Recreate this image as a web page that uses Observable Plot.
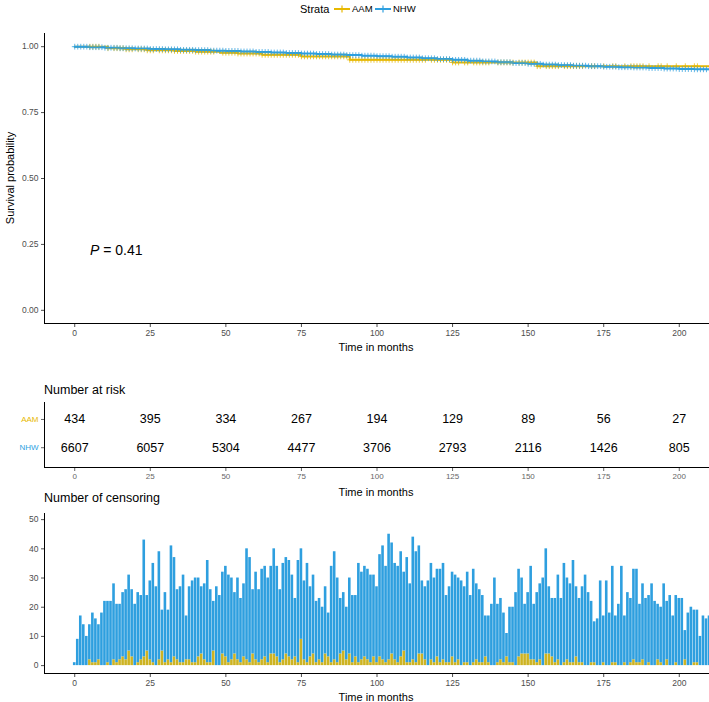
<!DOCTYPE html>
<html><head><meta charset="utf-8">
<script src="https://cdn.jsdelivr.net/npm/d3@7"></script>
<script src="https://cdn.jsdelivr.net/npm/@observablehq/plot@0.6"></script>
<style>
body{margin:0;background:#fff;}
#root{position:relative;width:709px;height:702px;font-family:"Liberation Sans",Arial,sans-serif;overflow:hidden;background:#fff;}
.abs{position:absolute;white-space:nowrap;line-height:1;color:#000;}
#root svg{overflow:visible;position:absolute;left:0;}
</style></head><body><div id="root"></div>
<script>
// ---------- data ----------
const strata = ["AAM", "NHW"];
const lineColors = ["#E7B800", "#2E9FDF"];
const barColors = ["#CDB322", "#2E9FDF"];
const timeTicks = [0, 25, 50, 75, 100, 125, 150, 175, 200];
const survTicks = [0, 0.25, 0.5, 0.75, 1];
const censorTicks = [0, 10, 20, 30, 40, 50];
const pValue = "0.41";

const nhwTimes = [0,5,10,15,20,25,30,35,40,45,50,55,60,65,70,75,80,85,90,95,100,105,110,115,120,125,130,135,140,145,150,155,160,165,170,175,180,185,190,195,200,205,210];
const nhwSurv = [1.000,0.998,0.996,0.994,0.993,0.991,0.990,0.988,0.987,0.985,0.984,0.982,0.980,0.978,0.976,0.974,0.972,0.970,0.968,0.966,0.964,0.962,0.959,0.956,0.953,0.950,0.947,0.944,0.941,0.938,0.935,0.932,0.930,0.928,0.926,0.924,0.922,0.921,0.919,0.917,0.915,0.914,0.913];
const aamTimes = [0,11,17,24,33,40,48,54,62,75,91,125,153,210];
const aamSurv = [1.000,0.994,0.990,0.986,0.984,0.981,0.977,0.974,0.969,0.963,0.950,0.940,0.926,0.926];

const riskTimes = [0, 25, 50, 75, 100, 125, 150, 175, 200];
const riskAAM = [434, 395, 334, 267, 194, 129, 89, 56, 27];
const riskNHW = [6607, 6057, 5304, 4477, 3706, 2793, 2116, 1426, 805];

// number censored per month, months 0..210
const censorAAM = [
0,0,0,0,0,2,1,1,2,0,
0,1,0,2,1,2,3,2,5,3,
0,1,2,3,5,2,1,0,2,5,
1,2,1,3,2,1,1,2,2,1,
1,3,4,2,1,1,5,0,0,4,
3,1,2,4,2,1,3,2,1,4,
2,1,2,3,1,4,4,3,1,2,
4,3,2,3,1,9,2,1,3,4,
1,2,1,4,3,1,2,1,4,5,
2,4,1,3,1,2,3,2,1,3,
1,3,2,1,2,4,2,1,3,5,
1,1,2,1,4,4,2,0,2,1,
3,1,2,1,1,3,1,2,0,1,
1,0,1,2,1,1,3,1,0,0,
1,2,1,3,1,1,0,3,4,4,
4,2,2,1,2,0,4,4,3,1,
2,0,1,2,1,1,3,1,1,0,
0,1,1,0,0,1,0,0,1,1,
0,0,1,0,1,2,1,1,2,0,
1,0,0,2,1,0,2,0,0,1,
0,0,2,0,0,1,1,0,0,0,
0];
const censorNHW = [
1,9,17,14,10,12,17,15,12,18,
22,21,22,26,20,19,22,24,26,23,
21,24,22,40,19,27,34,27,37,14,
24,17,40,34,24,26,30,15,25,28,
29,27,23,26,35,25,17,27,24,28,
31,30,28,21,28,22,25,38,36,22,
30,25,31,31,29,30,36,31,25,33,
33,33,29,20,35,31,27,34,24,27,
21,21,19,23,15,33,37,29,19,20,
18,26,23,21,34,30,31,31,30,28,
26,35,39,33,43,38,33,33,36,27,
36,27,42,38,37,25,25,29,33,29,
30,32,33,23,26,29,30,28,29,26,
31,24,32,26,25,23,14,16,21,30,
20,21,17,8,19,19,25,30,26,17,
21,32,19,24,26,30,36,23,20,22,
29,23,34,28,27,35,24,22,26,31,
25,21,14,16,29,16,29,18,33,16,
21,34,16,25,22,31,32,20,26,23,
23,28,22,19,19,28,20,24,17,23,
23,23,10,18,20,18,18,10,17,16,
17];

// ---------- helpers ----------
const FONT = '"Liberation Sans", Arial, sans-serif';
const root = document.getElementById("root");
function addText(html, left, top, opts = {}) {
  const d = document.createElement("div");
  d.className = "abs";
  d.innerHTML = html;
  d.style.left = left + "px";
  d.style.top = top + "px";
  d.style.fontSize = (opts.size || 11) + "px";
  if (opts.color) d.style.color = opts.color;
  let tf = "translateY(-50%)";
  if (opts.center) tf = "translate(-50%,-50%)";
  if (opts.rotate) tf = "translate(-50%,-50%) rotate(-90deg)";
  d.style.transform = tf;
  root.appendChild(d);
  return d;
}
function place(svg, top) { svg.style.top = top + "px"; root.appendChild(svg); }
const survAt = (times, surv, t) => surv[Math.max(0, d3.bisectRight(times, t) - 1)];

// ---------- legend ----------
addText("Strata", 300, 9, {size: 11});
function legendKey(color, left) {
  const s = d3.create("svg").attr("width", 16).attr("height", 10)
    .style("position", "absolute").style("left", left + "px").style("top", "4px");
  s.append("line").attr("x1", 0).attr("x2", 16).attr("y1", 5).attr("y2", 5).attr("stroke", color).attr("stroke-width", 2);
  s.append("line").attr("x1", 8).attr("x2", 8).attr("y1", 1.5).attr("y2", 8.5).attr("stroke", color).attr("stroke-width", 1.2);
  root.appendChild(s.node());
}
legendKey(lineColors[0], 334);
addText("AAM", 352, 9, {size: 9.5});
legendKey(lineColors[1], 375);
addText("NHW", 393, 9, {size: 9.5});

// ---------- survival panel ----------
const curveData = [
  ...aamTimes.map((t, i) => ({time: t, surv: aamSurv[i], strata: "AAM"})),
  ...nhwTimes.map((t, i) => ({time: t, surv: nhwSurv[i], strata: "NHW"}))
];
const censMarks = [];
censorAAM.forEach((c, m) => { if (c > 0) censMarks.push({time: m, surv: survAt(aamTimes, aamSurv, m), strata: "AAM"}); });
censorNHW.forEach((c, m) => { if (c > 0) censMarks.push({time: m, surv: survAt(nhwTimes, nhwSurv, m), strata: "NHW"}); });

const p1 = Plot.plot({
  width: 709, height: 360,
  marginLeft: 44, marginRight: 0, marginTop: 33, marginBottom: 37,
  style: {fontSize: "8.5px", fontFamily: FONT, color: "#4d4d4d", background: "transparent"},
  x: {domain: [-10, 210], ticks: timeTicks, tickSize: 4, tickPadding: 2, label: null},
  y: {domain: [-0.05, 1.05], ticks: survTicks, tickFormat: d3.format(".2f"), tickSize: 3, tickPadding: 3, label: null},
  color: {domain: strata, range: lineColors},
  marks: [
    Plot.ruleX([-10], {stroke: "#000", strokeWidth: 1}),
    Plot.ruleY([-0.05], {stroke: "#000", strokeWidth: 1}),
    Plot.line(curveData, {x: "time", y: "surv", z: "strata", stroke: "strata", curve: "step-after", strokeWidth: 2}),
    Plot.dot(censMarks, {x: "time", y: "surv", stroke: "strata", symbol: "plus", r: 2, strokeWidth: 0.9, strokeOpacity: 0.85})
  ]
});
place(p1, 0);
addText("Survival probability", 10, 178, {size: 11, rotate: true});
addText("Time in months", 376, 347, {size: 11, center: true});
addText("<i>P</i> = " + pValue, 90, 250, {size: 14});

// ---------- risk table ----------
const riskRows = riskTimes.flatMap((t, i) => [
  {time: t, strata: "AAM", n: riskAAM[i]},
  {time: t, strata: "NHW", n: riskNHW[i]}
]);
const p2 = Plot.plot({
  width: 709, height: 120,
  marginLeft: 44, marginRight: 0, marginTop: 22, marginBottom: 33,
  style: {fontSize: "8px", fontFamily: FONT, color: "#666", background: "transparent"},
  x: {domain: [-10, 210], ticks: timeTicks, tickSize: 4, tickPadding: 2, label: null},
  y: {domain: [1.7, -0.6], ticks: [0, 1], tickFormat: i => strata[i], tickSize: 3, tickPadding: 3, label: null},
  marks: [
    Plot.ruleX([-10], {stroke: "#000"}),
    Plot.ruleY([1.7], {stroke: "#000"}),
    Plot.text(riskRows, {x: "time", y: d => strata.indexOf(d.strata), text: d => String(d.n), fontSize: 12.5, fill: "#000"})
  ]
});
p2.querySelectorAll("text").forEach(t => {
  const k = strata.indexOf(t.textContent.trim());
  if (k >= 0) { t.setAttribute("fill", lineColors[k]); t.style.fill = lineColors[k]; }
});
place(p2, 380);
addText("Number at risk", 44, 390, {size: 12.5});
addText("Time in months", 376, 492, {size: 11, center: true});

// ---------- censoring panel ----------
const censorRows = [];
censorAAM.forEach((a, m) => {
  censorRows.push({time: m, strata: "AAM", lo: 0, hi: a});
  censorRows.push({time: m, strata: "NHW", lo: a, hi: a + censorNHW[m]});
});
const p3 = Plot.plot({
  width: 709, height: 202,
  marginLeft: 44, marginRight: 0, marginTop: 13, marginBottom: 29,
  style: {fontSize: "8.5px", fontFamily: FONT, color: "#4d4d4d", background: "transparent"},
  x: {domain: [-10, 210], ticks: timeTicks, tickSize: 4, tickPadding: 2, label: null},
  y: {domain: [-2.7, 52.1], ticks: censorTicks, tickSize: 3, tickPadding: 3, label: null},
  color: {domain: strata, range: barColors},
  marks: [
    Plot.rect(censorRows.filter(d => d.hi > d.lo), {x1: d => d.time - 0.43, x2: d => d.time + 0.43, y1: "lo", y2: "hi", fill: "strata", clip: true}),
    Plot.ruleX([-10], {stroke: "#000"}),
    Plot.ruleY([-2.7], {stroke: "#000"})
  ]
});
place(p3, 500);
addText("Number of censoring", 44, 498, {size: 12.5});
addText("Time in months", 376, 697, {size: 11, center: true});
</script>
</body></html>
